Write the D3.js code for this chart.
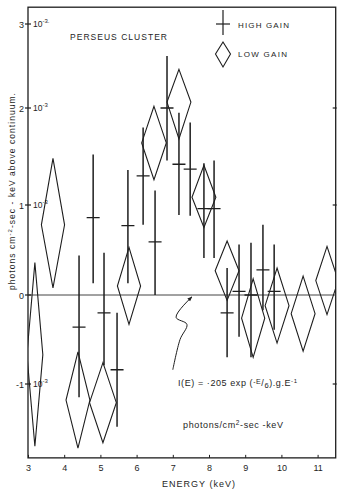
<!DOCTYPE html>
<html>
<head>
<meta charset="utf-8">
<script src="https://cdn.jsdelivr.net/npm/d3@7"></script>
<style>
  body { margin: 0; background: #fff; }
  svg { display: block; font-family: "Liberation Sans", Arial, sans-serif; }
</style>
</head>
<body>
<div id="chart"></div>
<script>
// energy axis (keV) and intensity axis (units of 1e-3)
const energyTicks = [3, 4, 5, 6, 7, 8, 9, 10, 11];
const yTickValues = [-1, 0, 1, 2, 3];
const yTickLabels = ["-1", "0", "1", "2", "3"];
const yTickExp = ["10", "", "10", "10", "10"];

// low gain points (diamonds): centre energy, half bin width, value, error
const lowE     = [3.19, 3.69, 4.38, 5.07, 5.79, 6.48, 7.17, 7.86, 8.50, 9.22, 9.88, 10.60, 11.26];
const lowHalfW = [0.22, 0.32, 0.33, 0.37, 0.32, 0.34, 0.33, 0.33, 0.33, 0.32, 0.33, 0.33, 0.31];
const lowVal   = [-0.67, 0.78, -1.18, -1.21, 0.10, 1.64, 2.07, 1.08, 0.27, -0.26, -0.12, -0.21, 0.16];
const lowErr   = [1.03, 0.70, 0.54, 0.45, 0.43, 0.38, 0.39, 0.33, 0.33, 0.44, 0.42, 0.42, 0.38];

// high gain points (crosses): energy, value, lower and upper end of error bar
const highE   = [4.41, 4.80, 5.10, 5.46, 5.76, 6.18, 6.51, 6.84, 7.17, 7.48, 7.86, 8.14, 8.50, 8.83, 9.16, 9.49, 9.80];
const highVal = [-0.36, 0.86, -0.20, -0.84, 0.77, 1.30, 0.59, 2.00, 1.42, 1.37, 0.96, 0.96, -0.20, 0.04, 0.00, 0.28, 0.04];
const highLo  = [-1.15, 0.13, -0.79, -1.48, 0.13, 0.78, 0.00, 1.46, 0.89, 0.88, 0.41, 0.41, -0.70, -0.47, -0.70, -0.17, -0.39];
const highHi  = [0.44, 1.52, 0.47, -0.20, 1.36, 1.80, 1.15, 2.62, 1.95, 1.85, 1.43, 1.46, 0.30, 0.56, 0.58, 0.78, 0.56];

// arrow from the formula to the zero line
const arrowPts = [[7.0, -0.84], [7.2, -0.5], [7.39, -0.33], [7.09, -0.25], [7.53, -0.02]];

const W = 345, H = 491;
const ink = "#1e1e1e";

const x = d3.scaleLinear().domain([3, 11.5]).range([28, 335.7]);
// the hand drawn y axis is not quite even, so follow its tick marks
const y = d3.scaleLinear().domain(yTickValues).range([384, 295, 205, 108, 24]);
const xMin = 3, xMax = 11.5, yMin = -1.83, yMax = 3.2;

const svg = d3.select("#chart").append("svg")
    .attr("width", W).attr("height", H);

svg.append("rect").attr("width", W).attr("height", H).attr("fill", "#fff");

svg.append("clipPath").attr("id", "plot")
  .append("rect")
    .attr("x", x(xMin)).attr("y", y(yMax))
    .attr("width", x(xMax) - x(xMin)).attr("height", y(yMin) - y(yMax));

// frame
svg.append("rect")
    .attr("x", x(xMin)).attr("y", y(yMax))
    .attr("width", x(xMax) - x(xMin)).attr("height", y(yMin) - y(yMax))
    .attr("fill", "none").attr("stroke", ink).attr("stroke-width", 1.3);

// zero line
svg.append("line")
    .attr("x1", x(xMin)).attr("x2", x(xMax))
    .attr("y1", y(0)).attr("y2", y(0))
    .attr("stroke", "#444").attr("stroke-width", 1);

// bottom axis
const xAxis = svg.append("g")
    .attr("transform", `translate(0,${y(yMin)})`)
    .call(d3.axisBottom(x).tickValues(energyTicks).tickSize(-3).tickPadding(7).tickFormat(d3.format("d")));
xAxis.select(".domain").remove();
xAxis.selectAll("line").attr("stroke", ink);
xAxis.selectAll("text").attr("font-size", 9).attr("fill", ink).attr("font-family", "Liberation Sans, sans-serif");

svg.append("text")
    .attr("x", 162).attr("y", 487)
    .attr("font-size", 9).attr("fill", ink)
    .attr("textLength", 73).attr("lengthAdjust", "spacing")
    .text("ENERGY (keV)");

// left axis ticks crossing the line
const yt = svg.append("g");
yt.selectAll("line").data(yTickValues).join("line")
    .attr("x1", x(xMin) - 3).attr("x2", x(xMin) + 3)
    .attr("y1", d => y(d)).attr("y2", d => y(d))
    .attr("stroke", ink).attr("stroke-width", 1.2);
yt.selectAll("text.num").data(yTickValues).join("text")
    .attr("class", "num")
    .attr("x", x(xMin) - 4).attr("y", d => y(d) + 3.5)
    .attr("text-anchor", "end").attr("font-size", 9).attr("fill", ink)
    .text((d, i) => yTickLabels[i]);
const expText = yt.selectAll("text.exp").data(yTickValues.filter((d, i) => yTickExp[i])).join("text")
    .attr("class", "exp")
    .attr("x", x(xMin) + 5).attr("y", d => y(d) + 3)
    .attr("font-size", 8.5).attr("fill", ink);
expText.append("tspan").text("10");
expText.append("tspan").attr("dy", -4).attr("font-size", 6).text(d => d === 3 ? "-3." : "-3");

// right axis ticks
svg.append("g").selectAll("line").data([-1, 1, 2]).join("line")
    .attr("x1", x(xMax) - 3).attr("x2", x(xMax) + 1)
    .attr("y1", d => y(d)).attr("y2", d => y(d))
    .attr("stroke", ink).attr("stroke-width", 1.2);

// y axis title
const yTitle = svg.append("text")
    .attr("transform", `translate(15,${290}) rotate(-90)`)
    .attr("font-size", 8.5).attr("fill", ink)
    .attr("textLength", 197).attr("lengthAdjust", "spacing");
yTitle.append("tspan").text("photons cm");
yTitle.append("tspan").attr("dy", -3.5).attr("font-size", 6).text("-2");
yTitle.append("tspan").attr("dy", 3.5).text("-sec - keV  above  continuum.");

const plot = svg.append("g").attr("clip-path", "url(#plot)");

// low gain diamonds
const lowData = lowE.map((e, i) => ({ e, hw: lowHalfW[i], v: lowVal[i], err: lowErr[i] }));
plot.selectAll("path.low").data(lowData).join("path")
    .attr("class", "low")
    .attr("d", d => `M${x(d.e)},${y(d.v + d.err)}L${x(d.e + d.hw)},${y(d.v)}L${x(d.e)},${y(d.v - d.err)}L${x(d.e - d.hw)},${y(d.v)}Z`)
    .attr("fill", "none").attr("stroke", ink).attr("stroke-width", 1.1);

// high gain crosses
const highData = highE.map((e, i) => ({ e, v: highVal[i], lo: highLo[i], hi: highHi[i] }));
const cross = plot.selectAll("g.high").data(highData).join("g").attr("class", "high");
cross.append("line")
    .attr("x1", d => x(d.e)).attr("x2", d => x(d.e))
    .attr("y1", d => y(d.hi)).attr("y2", d => y(d.lo))
    .attr("stroke", ink).attr("stroke-width", 1.5);
cross.append("line")
    .attr("x1", d => x(d.e) - 6.5).attr("x2", d => x(d.e) + 6.5)
    .attr("y1", d => y(d.v)).attr("y2", d => y(d.v))
    .attr("stroke", ink).attr("stroke-width", 1.3);

// legend
const lg = svg.append("g");
lg.append("line").attr("x1", 223).attr("x2", 223).attr("y1", 10).attr("y2", 35).attr("stroke", ink).attr("stroke-width", 1.2);
lg.append("line").attr("x1", 216).attr("x2", 230).attr("y1", 24).attr("y2", 24).attr("stroke", ink).attr("stroke-width", 1.2);
lg.append("path").attr("d", "M223,42L230.5,54L223,67L215.5,54Z")
    .attr("fill", "none").attr("stroke", ink).attr("stroke-width", 1.1);
lg.append("text").attr("x", 238).attr("y", 28).attr("font-size", 8).attr("fill", ink)
    .attr("textLength", 51).attr("lengthAdjust", "spacing").text("HIGH GAIN");
lg.append("text").attr("x", 238).attr("y", 57).attr("font-size", 8).attr("fill", ink)
    .attr("textLength", 49).attr("lengthAdjust", "spacing").text("LOW GAIN");

svg.append("text").attr("x", 70).attr("y", 40).attr("font-size", 8.5).attr("fill", ink)
    .attr("textLength", 97).attr("lengthAdjust", "spacing").text("PERSEUS CLUSTER");

// formula annotation
const f = svg.append("text").attr("x", 178).attr("y", 386).attr("font-size", 9).attr("fill", ink)
    .attr("textLength", 119).attr("lengthAdjust", "spacing");
f.append("tspan").text("I(E) = ·205 exp (");
f.append("tspan").attr("dy", -2.5).attr("font-size", 7).text("-E");
f.append("tspan").attr("dy", 2.5).text("/");
f.append("tspan").attr("dy", 1.5).attr("font-size", 7.5).text("6");
f.append("tspan").attr("dy", -1.5).text(").g.E");
f.append("tspan").attr("dy", -3.5).attr("font-size", 6).text("-1");

const u = svg.append("text").attr("x", 183).attr("y", 428).attr("font-size", 9).attr("fill", ink)
    .attr("textLength", 100).attr("lengthAdjust", "spacing");
u.append("tspan").text("photons/cm");
u.append("tspan").attr("dy", -3.5).attr("font-size", 6.5).text("2");
u.append("tspan").attr("dy", 3.5).text("-sec -keV");

svg.append("defs").append("marker")
    .attr("id", "head").attr("viewBox", "0 0 10 10").attr("refX", 9).attr("refY", 5)
    .attr("markerWidth", 5).attr("markerHeight", 5).attr("orient", "auto")
  .append("path").attr("d", "M0,1L10,5L0,9Z").attr("fill", ink);

svg.append("path")
    .datum(arrowPts)
    .attr("d", d3.line().x(d => x(d[0])).y(d => y(d[1])).curve(d3.curveCatmullRom))
    .attr("fill", "none").attr("stroke", ink).attr("stroke-width", 1)
    .attr("marker-end", "url(#head)");
</script>
</body>
</html>
